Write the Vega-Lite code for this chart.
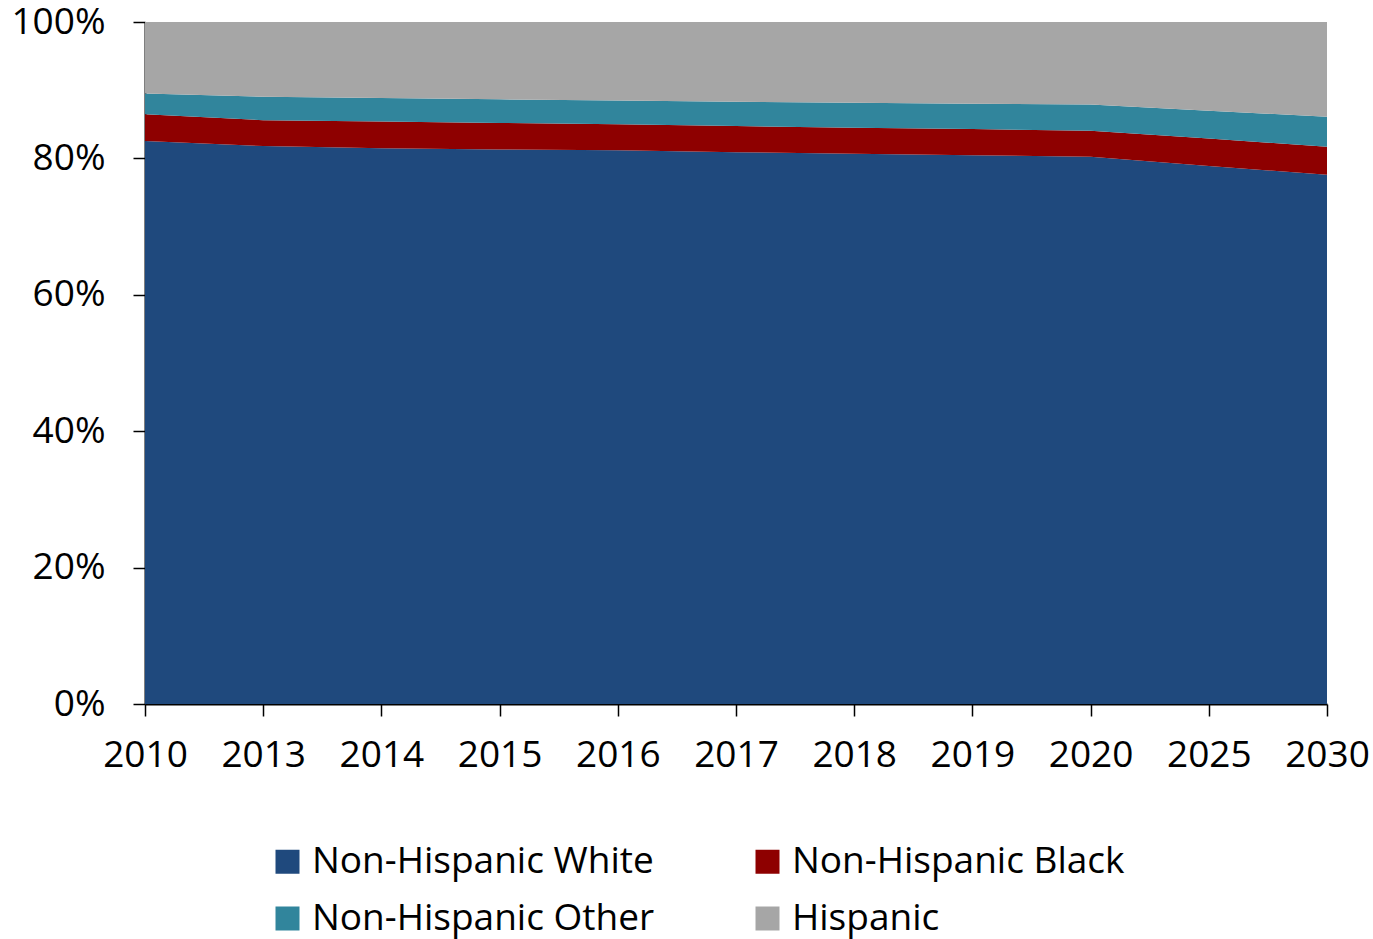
{
  "$schema": "https://vega.github.io/schema/vega-lite/v6.json",
  "width": 1182,
  "height": 682,
  "autosize": {"type": "none"},
  "padding": {"left": 145, "top": 22, "right": 46, "bottom": 235},
  "background": "white",
  "config": {
    "view": {"stroke": null},
    "font": "Open Sans"
  },
  "data": {
    "values": [
      {"year": "2010", "group": "Non-Hispanic White", "order": 1, "share": 82.55},
      {"year": "2013", "group": "Non-Hispanic White", "order": 1, "share": 81.8},
      {"year": "2014", "group": "Non-Hispanic White", "order": 1, "share": 81.5},
      {"year": "2015", "group": "Non-Hispanic White", "order": 1, "share": 81.3},
      {"year": "2016", "group": "Non-Hispanic White", "order": 1, "share": 81.2},
      {"year": "2017", "group": "Non-Hispanic White", "order": 1, "share": 80.9},
      {"year": "2018", "group": "Non-Hispanic White", "order": 1, "share": 80.7},
      {"year": "2019", "group": "Non-Hispanic White", "order": 1, "share": 80.45},
      {"year": "2020", "group": "Non-Hispanic White", "order": 1, "share": 80.25},
      {"year": "2025", "group": "Non-Hispanic White", "order": 1, "share": 78.9},
      {"year": "2030", "group": "Non-Hispanic White", "order": 1, "share": 77.6},
      {"year": "2010", "group": "Non-Hispanic Black", "order": 2, "share": 3.91},
      {"year": "2013", "group": "Non-Hispanic Black", "order": 2, "share": 3.8},
      {"year": "2014", "group": "Non-Hispanic Black", "order": 2, "share": 3.9},
      {"year": "2015", "group": "Non-Hispanic Black", "order": 2, "share": 3.9},
      {"year": "2016", "group": "Non-Hispanic Black", "order": 2, "share": 3.8},
      {"year": "2017", "group": "Non-Hispanic Black", "order": 2, "share": 3.85},
      {"year": "2018", "group": "Non-Hispanic Black", "order": 2, "share": 3.8},
      {"year": "2019", "group": "Non-Hispanic Black", "order": 2, "share": 3.85},
      {"year": "2020", "group": "Non-Hispanic Black", "order": 2, "share": 3.81},
      {"year": "2025", "group": "Non-Hispanic Black", "order": 2, "share": 4.0},
      {"year": "2030", "group": "Non-Hispanic Black", "order": 2, "share": 4.1},
      {"year": "2010", "group": "Non-Hispanic Other", "order": 3, "share": 3.04},
      {"year": "2013", "group": "Non-Hispanic Other", "order": 3, "share": 3.45},
      {"year": "2014", "group": "Non-Hispanic Other", "order": 3, "share": 3.46},
      {"year": "2015", "group": "Non-Hispanic Other", "order": 3, "share": 3.46},
      {"year": "2016", "group": "Non-Hispanic Other", "order": 3, "share": 3.5},
      {"year": "2017", "group": "Non-Hispanic Other", "order": 3, "share": 3.55},
      {"year": "2018", "group": "Non-Hispanic Other", "order": 3, "share": 3.67},
      {"year": "2019", "group": "Non-Hispanic Other", "order": 3, "share": 3.7},
      {"year": "2020", "group": "Non-Hispanic Other", "order": 3, "share": 3.84},
      {"year": "2025", "group": "Non-Hispanic Other", "order": 3, "share": 4.1},
      {"year": "2030", "group": "Non-Hispanic Other", "order": 3, "share": 4.4},
      {"year": "2010", "group": "Hispanic", "order": 4, "share": 10.5},
      {"year": "2013", "group": "Hispanic", "order": 4, "share": 10.95},
      {"year": "2014", "group": "Hispanic", "order": 4, "share": 11.14},
      {"year": "2015", "group": "Hispanic", "order": 4, "share": 11.34},
      {"year": "2016", "group": "Hispanic", "order": 4, "share": 11.5},
      {"year": "2017", "group": "Hispanic", "order": 4, "share": 11.7},
      {"year": "2018", "group": "Hispanic", "order": 4, "share": 11.83},
      {"year": "2019", "group": "Hispanic", "order": 4, "share": 12.0},
      {"year": "2020", "group": "Hispanic", "order": 4, "share": 12.1},
      {"year": "2025", "group": "Hispanic", "order": 4, "share": 13.0},
      {"year": "2030", "group": "Hispanic", "order": 4, "share": 13.9}
    ]
  },
  "mark": {"type": "area", "interpolate": "linear"},
  "encoding": {
    "x": {
      "field": "year",
      "type": "ordinal",
      "scale": {"padding": 0},
      "axis": {
        "title": null,
        "labelAngle": 0,
        "labelFontSize": 37,
        "labelColor": "black",
        "labelPadding": 21,
        "tickSize": 12,
        "tickColor": "black",
        "tickWidth": 1.5,
        "domainColor": "black",
        "domainWidth": 2,
        "grid": false
      }
    },
    "y": {
      "field": "share",
      "type": "quantitative",
      "stack": "normalize",
      "scale": {"domain": [0, 1]},
      "axis": {
        "title": null,
        "format": ".0%",
        "values": [0, 0.2, 0.4, 0.6, 0.8, 1],
        "labelFontSize": 37,
        "labelColor": "black",
        "labelPadding": 28,
        "tickSize": 12,
        "tickColor": "black",
        "tickWidth": 1.5,
        "domainColor": "black",
        "domainWidth": 2,
        "grid": false
      }
    },
    "color": {
      "field": "group",
      "type": "nominal",
      "sort": ["Non-Hispanic White", "Non-Hispanic Black", "Non-Hispanic Other", "Hispanic"],
      "scale": {
        "domain": ["Non-Hispanic White", "Non-Hispanic Black", "Non-Hispanic Other", "Hispanic"],
        "range": ["#1F497D", "#8E0000", "#31859C", "#A6A6A6"]
      },
      "legend": {
        "title": null,
        "orient": "none",
        "legendX": 124,
        "legendY": 821,
        "direction": "horizontal",
        "columns": 2,
        "symbolType": "square",
        "symbolSize": 576,
        "symbolStrokeWidth": 0,
        "labelFontSize": 37,
        "labelColor": "black",
        "labelOffset": 6,
        "labelLimit": 600,
        "columnPadding": 94,
        "rowPadding": 19
      }
    },
    "order": {"field": "order", "type": "quantitative"}
  }
}
